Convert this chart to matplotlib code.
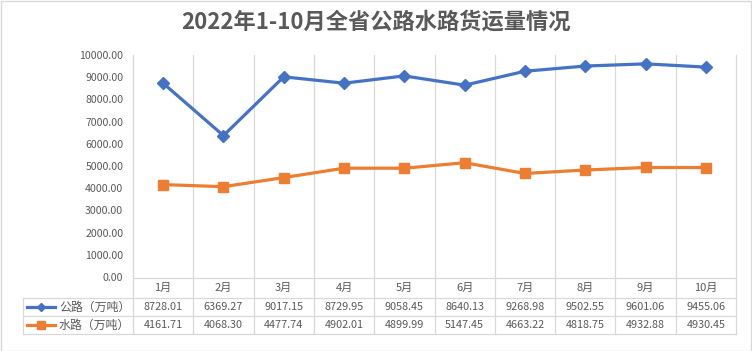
import matplotlib
matplotlib.use('Agg')
import matplotlib.pyplot as plt
from matplotlib.lines import Line2D
import numpy as np

plt.rcParams['font.family'] = ['Noto Sans CJK SC', 'DejaVu Sans']

months = ['1月', '2月', '3月', '4月', '5月', '6月', '7月', '8月', '9月', '10月']
road = [8728.01, 6369.27, 9017.15, 8729.95, 9058.45, 8640.13, 9268.98, 9502.55, 9601.06, 9455.06]
water = [4161.71, 4068.30, 4477.74, 4902.01, 4899.99, 5147.45, 4663.22, 4818.75, 4932.88, 4930.45]
names = ['公路（万吨）', '水路（万吨）']
yticks = np.arange(0, 10001, 1000)

blue = '#4472C4'
orange = '#ED7D31'
grey = '#595959'
grid = '#D9D9D9'

W, H = 752, 351
fig = plt.figure(figsize=(W / 100, H / 100), dpi=100)
# plot area in pixels: x 133..736, y 55..277
ax = fig.add_axes([133 / W, 1 - 277 / H, 603 / W, 222 / H])

x = np.arange(len(months))
ax.plot(x, road, color=blue, lw=2.3, marker='D', ms=6, zorder=3)
ax.plot(x, water, color=orange, lw=2.3, marker='s', ms=6.5, zorder=3)

ax.set_xlim(-0.5, len(months) - 0.5)
ax.set_ylim(0, 10000)
ax.set_yticks(yticks)
ax.set_yticklabels(['%.2f' % v for v in yticks], color=grey, fontsize=7.6)
ax.tick_params(axis='y', length=0, pad=7)
ax.set_xticks([])
for s in ax.spines.values():
    s.set_visible(False)

# table geometry in axes fraction (y) below the plot
def yf(py):
    return (277 - py) / 222.0

xt = ax.get_xaxis_transform()
ta = ax.transAxes
y_top, y_r1, y_r2, y_bot = yf(278), yf(298), yf(316), yf(334)
x_left = (23 - 133) / 603.0

# vertical gridlines / table column lines
for k in range(len(months) + 1):
    ax.plot([k - 0.5, k - 0.5], [1, y_bot], transform=xt, color=grid, lw=0.9,
            clip_on=False, zorder=1)
ax.plot([0, 1], [y_top, y_top], transform=ta, color=grid, lw=0.9, clip_on=False)
for yy in (y_r1, y_r2, y_bot):
    ax.plot([x_left, 1], [yy, yy], transform=ta, color=grid, lw=0.9, clip_on=False)
ax.plot([x_left, x_left], [y_r1, y_bot], transform=ta, color=grid, lw=0.9, clip_on=False)

# header row
for i, m in enumerate(months):
    ax.text(i, (y_top + y_r1) / 2, m, transform=xt, ha='center', va='center',
            fontsize=8, color=grey)

# data rows
rows = [(road, blue, 'D', 4.5, (y_r1 + y_r2) / 2), (water, orange, 's', 5.5, (y_r2 + y_bot) / 2)]
for (vals, col, mk, ms, yc), name in zip(rows, names):
    for i, v in enumerate(vals):
        ax.text(i, yc, '%.2f' % v, transform=xt, ha='center', va='center',
                fontsize=7.8, color=grey)
    lx0, lx1 = (27 - 133) / 603.0, (55 - 133) / 603.0
    ax.add_line(Line2D([lx0, lx1], [yc, yc], transform=ta, color=col, lw=2.3,
                       clip_on=False))
    ax.add_line(Line2D([(lx0 + lx1) / 2], [yc], transform=ta, color=col, marker=mk,
                       ms=ms, clip_on=False))
    ax.text((59 - 133) / 603.0, yc, name, transform=ta, ha='left', va='center',
            fontsize=8.6, color=grey)

fig.text(0.5, 1 - 22 / H, '2022年1-10月全省公路水路货运量情况', ha='center', va='center',
         fontsize=16, fontweight='bold', color=grey)

# outer chart border
fig.patches.append(plt.Rectangle((0.5 / W, 0.5 / H), 1 - 1.5 / W, 1 - 1.5 / H,
                                 transform=fig.transFigure, fill=False,
                                 edgecolor=grid, lw=1))

fig.savefig('out.png', dpi=100)
